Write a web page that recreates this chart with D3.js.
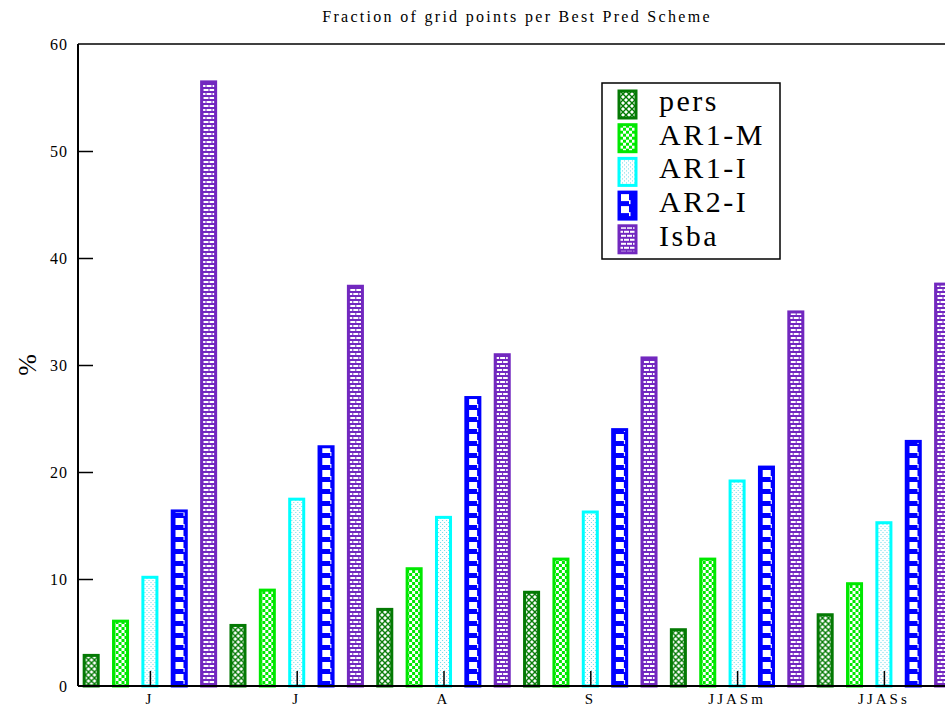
<!DOCTYPE html>
<html>
<head>
<meta charset="utf-8">
<script src="https://cdn.jsdelivr.net/npm/d3@7"></script>
<style>
  body { margin: 0; background: #fff; }
  svg { display: block; font-family: "Liberation Serif", "Times New Roman", serif; }
</style>
</head>
<body>
<div id="chart"></div>
<script>
// data
const months = ["J", "J", "A", "S", "JJASm", "JJASs"];
const schemes = ["pers", "AR1-M", "AR1-I", "AR2-I", "Isba"];
const pers  = [3.0, 5.8, 7.3, 8.9, 5.4, 6.8];
const ar1m  = [6.2, 9.1, 11.1, 12.0, 12.0, 9.7];
const ar1i  = [10.3, 17.6, 15.9, 16.4, 19.3, 15.4];
const ar2i  = [16.5, 22.5, 27.1, 24.1, 20.6, 23.0];
const isba  = [56.6, 37.5, 31.1, 30.8, 35.1, 37.7];
const yTicks = [0, 10, 20, 30, 40, 50, 60];

const seriesValues = [pers, ar1m, ar1i, ar2i, isba];
const colors = ["#047a04", "#00e800", "#00ffff", "#0000ff", "#7228bf"];

const W = 945, H = 706;
const margin = { top: 44, left: 78, bottom: 20 };
const plotBottom = H - margin.bottom;

const svg = d3.select("#chart").append("svg")
    .attr("width", W)
    .attr("height", H);

// patterns -----------------------------------------------------------
const defs = svg.append("defs");

// pers: crosshatch diamonds
let p = defs.append("pattern").attr("id", "pat0")
    .attr("patternUnits", "userSpaceOnUse").attr("width", 6).attr("height", 6);
p.append("rect").attr("width", 6).attr("height", 6).attr("fill", "#fff");
p.append("path").attr("d", "M0,0L6,6M6,0L0,6")
    .attr("stroke", colors[0]).attr("stroke-width", 1.4);

// AR1-M: small checker
p = defs.append("pattern").attr("id", "pat1")
    .attr("patternUnits", "userSpaceOnUse").attr("width", 6).attr("height", 6);
p.append("rect").attr("width", 6).attr("height", 6).attr("fill", "#fff");
p.append("rect").attr("width", 3).attr("height", 3).attr("fill", colors[1]);
p.append("rect").attr("x", 3).attr("y", 3).attr("width", 3).attr("height", 3).attr("fill", colors[1]);

// AR1-I: fine dots
p = defs.append("pattern").attr("id", "pat2")
    .attr("patternUnits", "userSpaceOnUse").attr("width", 4).attr("height", 4);
p.append("rect").attr("width", 4).attr("height", 4).attr("fill", "#fff");
p.append("rect").attr("width", 1).attr("height", 1).attr("fill", "#6fd8e8");
p.append("rect").attr("x", 2).attr("y", 2).attr("width", 1).attr("height", 1).attr("fill", "#6fd8e8");

// AR2-I: big blocks
p = defs.append("pattern").attr("id", "pat3")
    .attr("patternUnits", "userSpaceOnUse").attr("width", 16).attr("height", 12);
p.append("rect").attr("width", 16).attr("height", 12).attr("fill", colors[3]);
p.append("rect").attr("x", 3).attr("y", 2).attr("width", 8).attr("height", 7).attr("fill", "#fff");
p.append("rect").attr("x", 11).attr("y", 8).attr("width", 1.5).attr("height", 4).attr("fill", "#fff");

// Isba: bricks
p = defs.append("pattern").attr("id", "pat4")
    .attr("patternUnits", "userSpaceOnUse").attr("width", 12).attr("height", 8);
p.append("rect").attr("width", 12).attr("height", 8).attr("fill", colors[4]);
p.append("rect").attr("x", 1).attr("y", 1).attr("width", 5).attr("height", 2).attr("fill", "#fff");
p.append("rect").attr("x", 7).attr("y", 1).attr("width", 5).attr("height", 2).attr("fill", "#fff");
p.append("rect").attr("x", -2).attr("y", 5).attr("width", 5).attr("height", 2).attr("fill", "#fff");
p.append("rect").attr("x", 4).attr("y", 5).attr("width", 5).attr("height", 2).attr("fill", "#fff");
p.append("rect").attr("x", 10).attr("y", 5).attr("width", 5).attr("height", 2).attr("fill", "#fff");

// scales -------------------------------------------------------------
const x0 = d3.scaleBand()
    .domain(d3.range(months.length))
    .range([76.5, 76.5 + 6 * 146.8]);

const x1 = d3.scaleBand()
    .domain(schemes)
    .range([0, x0.bandwidth()])
    .paddingInner(0.42)
    .paddingOuter(0.21);

const y = d3.scaleLinear()
    .domain([0, 60])
    .range([plotBottom, margin.top]);

// bars ---------------------------------------------------------------
const groups = svg.append("g").selectAll("g")
    .data(months.map((m, i) => i))
    .join("g")
    .attr("transform", i => `translate(${x0(i)},0)`);

groups.selectAll("rect")
    .data(i => schemes.map((s, k) => ({ k, s, v: seriesValues[k][i] })))
    .join("rect")
    .attr("x", d => x1(d.s) + 1.5)
    .attr("y", d => y(d.v) + 1.5)
    .attr("width", x1.bandwidth() - 3)
    .attr("height", d => y(0) - y(d.v) - 1.5)
    .attr("fill", d => `url(#pat${d.k})`)
    .attr("stroke", d => colors[d.k])
    .attr("stroke-width", 3);

// axes ---------------------------------------------------------------
const yAxis = svg.append("g")
    .attr("transform", `translate(${margin.left},0)`)
    .call(d3.axisRight(y).tickValues(yTicks).tickSize(15).tickFormat(d3.format("d")));
yAxis.select(".domain").remove();
yAxis.selectAll(".tick line").attr("stroke", "#000").attr("stroke-width", 1.5)
    .filter(d => d === 0 || d === 60).remove();
yAxis.selectAll(".tick text")
    .attr("x", -10)
    .attr("text-anchor", "end")
    .attr("font-size", 16)
    .attr("letter-spacing", 1)
    .attr("font-family", "Liberation Serif, serif");

const xAxis = svg.append("g")
    .attr("transform", `translate(0,${plotBottom})`)
    .call(d3.axisTop(d3.scalePoint().domain(d3.range(6)).range([x0(0) + x0.bandwidth() / 2, x0(5) + x0.bandwidth() / 2]))
        .tickSize(15).tickFormat(""));
xAxis.select(".domain").remove();
xAxis.selectAll(".tick line").attr("stroke", "#000").attr("stroke-width", 1.5);

svg.append("g").selectAll("text")
    .data(months)
    .join("text")
    .attr("x", (m, i) => x0(i) + x0.bandwidth() / 2)
    .attr("y", plotBottom + 18)
    .attr("text-anchor", "middle")
    .attr("font-size", 15)
    .attr("letter-spacing", 3)
    .text(m => m);

// frame lines
svg.append("line")
    .attr("x1", margin.left).attr("x2", W)
    .attr("y1", y(0)).attr("y2", y(0))
    .attr("stroke", "#000").attr("stroke-width", 2);
svg.append("line")
    .attr("x1", margin.left).attr("x2", W)
    .attr("y1", y(60)).attr("y2", y(60))
    .attr("stroke", "#000").attr("stroke-width", 1.5);
svg.append("line")
    .attr("x1", margin.left).attr("x2", margin.left)
    .attr("y1", y(60)).attr("y2", y(0))
    .attr("stroke", "#000").attr("stroke-width", 2);

// title & y label
svg.append("text")
    .attr("x", 517).attr("y", 22)
    .attr("text-anchor", "middle")
    .attr("font-size", 16)
    .attr("letter-spacing", 2.3)
    .text("Fraction of grid points per Best Pred Scheme");

svg.append("text")
    .attr("transform", `translate(36,${y(30)}) rotate(-90)`)
    .attr("text-anchor", "middle")
    .attr("font-size", 26)
    .text("%");

// legend -------------------------------------------------------------
const legend = svg.append("g").attr("transform", "translate(602,83)");
legend.append("rect")
    .attr("width", 178).attr("height", 176)
    .attr("fill", "#fff").attr("stroke", "#000").attr("stroke-width", 1.5);

const items = legend.selectAll("g.item")
    .data(schemes)
    .join("g")
    .attr("class", "item")
    .attr("transform", (s, k) => `translate(0,${8 + k * 33.7})`);

items.append("rect")
    .attr("x", 17).attr("y", 0)
    .attr("width", 17).attr("height", 27)
    .attr("fill", (s, k) => `url(#pat${k})`)
    .attr("stroke", (s, k) => colors[k])
    .attr("stroke-width", 3);

items.append("text")
    .attr("x", 57).attr("y", 20)
    .attr("font-size", 30)
    .attr("letter-spacing", 2.5)
    .text(s => s);
</script>
</body>
</html>
